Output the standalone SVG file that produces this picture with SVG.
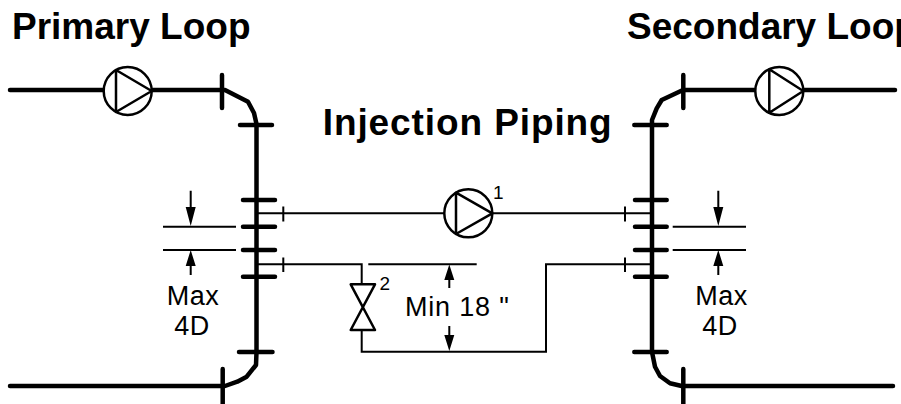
<svg xmlns="http://www.w3.org/2000/svg" width="901" height="404" viewBox="0 0 901 404">
<style>
.pipe{fill:none;stroke:#000;stroke-width:4.5;stroke-linecap:round;stroke-linejoin:round}
.bar{fill:none;stroke:#000;stroke-width:4.5;stroke-linecap:round}
.thin{fill:none;stroke:#000;stroke-width:2;stroke-linecap:butt}
.sym{fill:#fff;stroke:#000;stroke-width:2.5;stroke-linejoin:round}
.ah{fill:#000;stroke:none}
.h{font-family:"Liberation Sans",Arial,sans-serif;font-weight:bold;font-size:37px;fill:#000}
.t{font-family:"Liberation Sans",Arial,sans-serif;font-size:27px;fill:#000}
.n{font-family:"Liberation Sans",Arial,sans-serif;font-size:19px;fill:#000}
</style>
<g id="connectors">
  <!-- primary loop -->
  <path class="pipe" d="M10,90 H104"/>
  <path class="pipe" d="M151.7,90 H225 L248,101.7 L254,113 L256.5,124 V352 L256,365 L246.7,376.7 L237.3,381.7 L225,386 H10"/>
  <path class="bar" d="M222,75 V108 M240,125 H272 M243,200 H275 M243,226.7 H275 M243,250 H275 M243,276.7 H275 M239,352 H272.5 M222.7,369 V406"/>
  <!-- secondary loop -->
  <path class="pipe" d="M895,90 H803.3"/>
  <path class="pipe" d="M755.3,90 H683 L661.7,100 L656.7,108.3 L652,120 V352 L655,366.7 L660,376 L670,383.3 L681.7,386 H893"/>
  <path class="bar" d="M683.3,75 V108 M634.3,125 H666.7 M635,200 H666.7 M635,226.7 H666.7 M635,250 H666.7 M635,276.7 H666.7 M634.3,352 H666.7 M683.3,369 V406"/>
  <!-- injection piping -->
  <path class="thin" d="M256,213.3 H444.3 M492.3,213.3 H652"/>
  <path class="thin" d="M256,264.3 H361.7 V284.3 M361.7,330 V351.7 H546 V264.3 H652"/>
  <path class="thin" d="M283.3,206.5 V221.5 M625,206.5 V221.5 M283.3,257.5 V272 M625,257.5 V272"/>
  <!-- dimensions -->
  <path class="thin" d="M163,226.7 H236 M163,250 H236 M672.7,226.7 H746 M672.7,250 H746 M368.3,264.3 H476.7"/>
  <path class="thin" d="M190.7,190.7 V210 M190.7,262 V275 M718.3,190.7 V210 M718.3,262 V275 M449.3,276 V288 M449.3,326 V338"/>
  <path class="ah" d="M185.7,207 H195.7 L190.7,226 Z M185.7,266 H195.7 L190.7,250 Z M713.3,207 H723.3 L718.3,226 Z M713.3,266 H723.3 L718.3,250 Z M444.3,280 H454.3 L449.3,264.5 Z M444.3,335 H454.3 L449.3,351 Z"/>
</g>
<g id="pump-primary">
  <circle class="sym" cx="127.7" cy="91" r="24"/>
  <path class="sym" fill="none" d="M116,70 V112 L151.7,91 Z"/>
</g>
<g id="pump-secondary">
  <circle class="sym" cx="779.3" cy="91" r="24"/>
  <path class="sym" d="M769.3,69.3 V112.7 L803.3,91 Z"/>
</g>
<g id="pump-injection">
  <circle class="sym" cx="468.3" cy="213.3" r="24"/>
  <path class="sym" d="M456,192.7 V234 L492.3,213.3 Z"/>
  <text class="n" x="493" y="199.3">1</text>
</g>
<g id="valve">
  <path class="sym" d="M350.7,284.3 H375 L350.7,330 H375 Z"/>
  <text class="n" x="379.5" y="290">2</text>
</g>
<g id="labels">
  <text class="h" x="12" y="39.3">Primary Loop</text>
  <text class="h" x="627" y="39.3">Secondary Loop</text>
  <text class="h" x="322.7" y="135" textLength="289" lengthAdjust="spacing">Injection Piping</text>
  <text class="t" x="193" y="305" text-anchor="middle" letter-spacing="0.5">Max</text>
  <text class="t" x="192" y="335" text-anchor="middle" letter-spacing="0.5">4D</text>
  <text class="t" x="721.5" y="305" text-anchor="middle" letter-spacing="0.5">Max</text>
  <text class="t" x="720" y="335" text-anchor="middle" letter-spacing="0.5">4D</text>
  <text class="t" x="405" y="316" letter-spacing="0.8">Min 18 "</text>
</g>
</svg>
